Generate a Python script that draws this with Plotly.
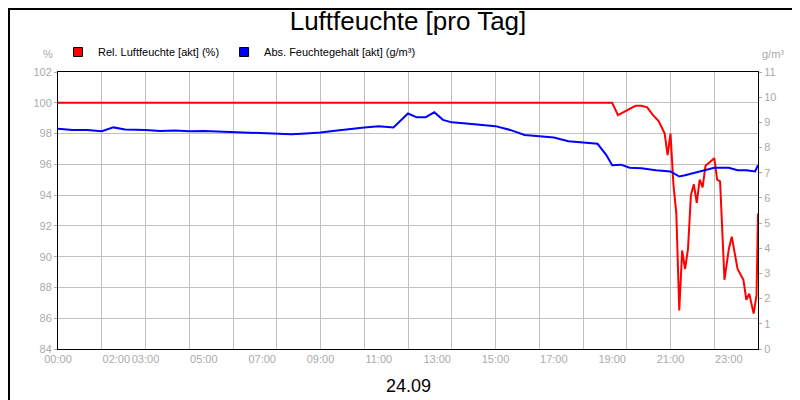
import plotly.graph_objects as go

# Blue: absolute humidity (g/m³), time in hours
abs_t = [0,0.5,1,1.5,1.9,2.3,3,3.5,4,4.5,5,5.5,6,6.5,7,7.5,8,8.5,9,9.5,10,10.5,11,11.5,12,12.3,12.6,12.9,13.2,13.5,14,14.5,15,15.5,16,16.5,17,17.5,18,18.5,18.8,19,19.3,19.6,20,20.5,21,21.3,21.5,22,22.5,23,23.3,23.6,23.9,24]
abs_v = [8.75,8.7,8.7,8.65,8.8,8.72,8.7,8.66,8.68,8.65,8.66,8.64,8.62,8.6,8.57,8.55,8.53,8.56,8.6,8.67,8.75,8.8,8.85,8.8,9.35,9.2,9.2,9.4,9.1,9.0,8.95,8.9,8.85,8.7,8.5,8.45,8.4,8.25,8.2,8.15,7.7,7.3,7.32,7.2,7.18,7.1,7.05,6.85,6.9,7.05,7.2,7.2,7.1,7.1,7.05,7.3]

# Red: relative humidity (%)
rel_t = [0,19.0,19.2,19.5,19.8,20.0,20.2,20.4,20.6,20.8,20.9,21.0,21.1,21.2,21.3,21.4,21.5,21.6,21.7,21.8,21.9,22.0,22.1,22.2,22.5,22.6,22.7,22.85,23.0,23.1,23.3,23.5,23.6,23.7,23.85,23.95,24.0]
rel_v = [100,100,99.2,99.5,99.8,99.8,99.7,99.2,98.8,98.0,96.6,98.0,94.7,92.8,86.5,90.4,89.2,90.5,94.0,94.7,93.5,95.0,94.5,95.9,96.4,95.0,94.9,88.5,90.5,91.3,89.2,88.5,87.2,87.6,86.3,87.5,92.8]

tick_vals = [0,2,3,5,7,9,11,13,15,17,19,21,23]
tick_text = ["00:00","02:00","03:00","05:00","07:00","09:00","11:00","13:00","15:00","17:00","19:00","21:00","23:00"]

names = ["Rel. Luftfeuchte [akt] (%)", "Abs. Feuchtegehalt [akt] (g/m³)"]
colors = ["#ff0000", "#0000ff"]

fig = go.Figure()
fig.add_trace(go.Scatter(x=rel_t, y=rel_v, mode="lines", line=dict(color=colors[0], width=2),
                         name=names[0], showlegend=False))
fig.add_trace(go.Scatter(x=abs_t, y=abs_v, mode="lines", line=dict(color=colors[1], width=2),
                         name=names[1], yaxis="y2", showlegend=False))
for n, c in zip(names, colors):
    fig.add_trace(go.Scatter(x=[None], y=[None], mode="markers", name=n,
                             marker=dict(symbol="square", size=9, color=c, line=dict(color="black", width=1))))

gray = "#aaaaaa"
PW, PH = 700, 277
fig.update_layout(
    width=800, height=400, paper_bgcolor="white", plot_bgcolor="white",
    margin=dict(l=50, r=50, t=64, b=59, autoexpand=False),
    font=dict(family="Liberation Sans, Arial", size=11, color="black"),
    title=dict(text="Luftfeuchte [pro Tag]", x=0.5, xanchor="center", y=0.99, yanchor="top",
               font=dict(size=26, color="black")),
    showlegend=True,
    legend=dict(orientation="h", x=0.0, xanchor="left", y=1 + 20/PH, yanchor="middle",
                font=dict(size=11), itemwidth=30, traceorder="normal", bgcolor="rgba(0,0,0,0)"),
    xaxis=dict(range=[0,24], tickvals=tick_vals, ticktext=tick_text, showgrid=False, tickangle=0,
               tickfont=dict(color=gray, size=11), ticks="", showline=True, linecolor="black",
               linewidth=1, mirror=True, zeroline=False, automargin=False,
               minor=dict(dtick=1.5, tick0=0, showgrid=True, gridcolor="#c0c0c0", gridwidth=1)),
    yaxis=dict(range=[84,102], dtick=2, showgrid=True, gridcolor="#c0c0c0", automargin=False,
               tickfont=dict(color=gray, size=11), ticks="outside", ticklen=3, tickcolor=gray,
               showline=True, linecolor="black", zeroline=False),
    yaxis2=dict(range=[0,11], dtick=1, overlaying="y", side="right", showgrid=False, automargin=False,
                tickfont=dict(color=gray, size=11), ticks="outside", ticklen=3, tickcolor=gray,
                showline=True, linecolor="black", zeroline=False),
    annotations=[
        dict(text="%", xref="paper", yref="paper", x=-10/PW, y=1 + 10/PH, xanchor="center", yanchor="bottom",
             showarrow=False, font=dict(color=gray, size=11)),
        dict(text="g/m³", xref="paper", yref="paper", x=1 + 15/PW, y=1 + 10/PH, xanchor="center", yanchor="bottom",
             showarrow=False, font=dict(color=gray, size=11)),
        dict(text="24.09", xref="paper", yref="paper", x=0.5, y=-25/PH, xanchor="center", yanchor="top",
             showarrow=False, font=dict(color="black", size=18)),
    ],
    shapes=[dict(type="rect", xref="paper", yref="paper", x0=-49/PW, x1=1 + 49/PW,
                 y0=-58/PH, y1=1 + 63/PH, line=dict(color="black", width=2))],
)
fig.write_html("out.html")
